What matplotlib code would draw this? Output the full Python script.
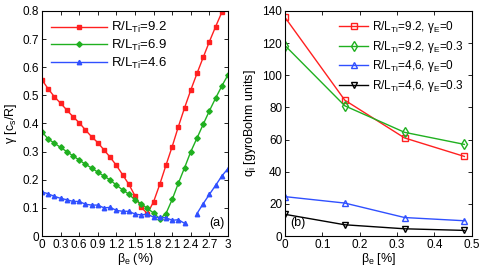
import numpy as np
import matplotlib
matplotlib.use("Agg")
import matplotlib.pyplot as plt

# Panel (a)
beta_a = np.round(np.arange(0, 3.01, 0.1), 2)
gamma_92 = [0.555, 0.523, 0.495, 0.472, 0.448, 0.424, 0.403, 0.377, 0.353, 0.332,
            0.306, 0.280, 0.251, 0.218, 0.184, 0.143, 0.102, 0.080, 0.122, 0.184,
            0.252, 0.318, 0.389, 0.456, 0.519, 0.578, 0.635, 0.691, 0.744, 0.795, np.nan]
gamma_69 = [0.370, 0.345, 0.330, 0.315, 0.300, 0.285, 0.270, 0.255, 0.242, 0.227,
            0.213, 0.199, 0.181, 0.164, 0.149, 0.128, 0.115, 0.098, 0.082, 0.061,
            0.080, 0.130, 0.188, 0.243, 0.300, 0.348, 0.397, 0.445, 0.490, 0.533, 0.573]
gamma_46 = [0.157, 0.150, 0.141, 0.134, 0.129, 0.123, 0.123, 0.113, 0.110, 0.110,
            0.100, 0.102, 0.091, 0.088, 0.088, 0.078, 0.075, 0.078, 0.067, 0.066,
            0.065, 0.056, 0.058, 0.045, np.nan, 0.080, 0.115, 0.148, 0.180, 0.213, 0.240]

# Panel (b)
beta_b = [0, 0.16, 0.32, 0.48]
q_92_0 = [136, 84.5, 61, 49.5]
q_92_03 = [118.5, 81, 64.5, 57]
q_46_0 = [24.5, 20.5, 11.5, 9.5]
q_46_03 = [13.5, 7, 4.5, 3.5]

plt.rcParams['font.family'] = ['Liberation Sans', 'DejaVu Sans']
plt.rcParams['font.size'] = 8.5
plt.rcParams['mathtext.fontset'] = 'custom'
plt.rcParams['mathtext.rm'] = 'Liberation Sans'
plt.rcParams['mathtext.it'] = 'Liberation Sans'
plt.rcParams['mathtext.bf'] = 'Liberation Sans:bold'

fig = plt.figure(figsize=(4.81, 2.67), dpi=100)
ax1 = fig.add_axes([0.0873, 0.116, 0.3867, 0.843])
ax2 = fig.add_axes([0.5925, 0.116, 0.3885, 0.843])

red, green, blue = '#ff2020', '#20b020', '#3050ff'

ax1.plot(beta_a, gamma_92, '-s', color=red, ms=3, lw=1, label=r'R/L$_{\rm Ti}$=9.2')
ax1.plot(beta_a, gamma_69, '-D', color=green, ms=2.8, lw=1, label=r'R/L$_{\rm Ti}$=6.9')
ax1.plot(beta_a, gamma_46, '-^', color=blue, ms=3.2, lw=1, label=r'R/L$_{\rm Ti}$=4.6')
ax1.set_xlim(0, 3)
ax1.set_ylim(0, 0.8)
ax1.set_xticks(np.round(np.arange(0, 3.01, 0.3), 1))
ax1.set_xticklabels(['0', '0.3', '0.6', '0.9', '1.2', '1.5', '1.8', '2.1', '2.4', '2.7', '3'])
ax1.set_yticks(np.round(np.arange(0, 0.81, 0.1), 1))
ax1.set_yticklabels(['0', '0.1', '0.2', '0.3', '0.4', '0.5', '0.6', '0.7', '0.8'])
ax1.set_xlabel(r'$\beta_{\rm e}$ (%)', labelpad=0, fontsize=9)
ax1.set_ylabel(r'$\gamma$ [c$_{\rm s}$/R]', labelpad=3, fontsize=9)
ax1.legend(loc='upper left', frameon=False, handlelength=4.2, fontsize=9.5,
           borderaxespad=0.3, labelspacing=0.2, handletextpad=0.3)
ax1.text(0.98, 0.03, '(a)', transform=ax1.transAxes, ha='right', va='bottom', fontsize=9)

ax2.plot(beta_b, q_92_0, '-s', color=red, mfc='none', ms=4.5, lw=1, label=r'R/L$_{\rm Ti}$=9.2, $\gamma_{\rm E}$=0')
ax2.plot(beta_b, q_92_03, '-d', color=green, mfc='none', ms=5, lw=1, label=r'R/L$_{\rm Ti}$=9.2, $\gamma_{\rm E}$=0.3')
ax2.plot(beta_b, q_46_0, '-^', color=blue, mfc='none', ms=5, lw=1, label=r'R/L$_{\rm Ti}$=4,6, $\gamma_{\rm E}$=0')
ax2.plot(beta_b, q_46_03, '-v', color='black', mfc='none', ms=5, lw=1, label=r'R/L$_{\rm Ti}$=4,6, $\gamma_{\rm E}$=0.3')
ax2.set_xlim(0, 0.5)
ax2.set_ylim(0, 140)
ax2.set_xticks([0, 0.1, 0.2, 0.3, 0.4, 0.5])
ax2.set_xticklabels(['0', '0.1', '0.2', '0.3', '0.4', '0.5'])
ax2.set_yticks(range(0, 141, 20))
ax2.set_xlabel(r'$\beta_{\rm e}$ [%]', labelpad=0, fontsize=9)
ax2.set_ylabel(r'q$_{\rm i}$ [gyroBohm units]', labelpad=3, fontsize=9)
ax2.legend(loc='upper right', frameon=False, handlelength=2.5, fontsize=8.5,
           borderaxespad=0.3, labelspacing=0.3, handletextpad=0.3)
ax2.text(0.03, 0.03, '(b)', transform=ax2.transAxes, ha='left', va='bottom', fontsize=9)

for ax in (ax1, ax2):
    ax.tick_params(direction='in', top=True, right=True, length=3, width=0.6, pad=2)
    for s in ax.spines.values():
        s.set_linewidth(0.8)

fig.savefig('out.png', dpi=100)
